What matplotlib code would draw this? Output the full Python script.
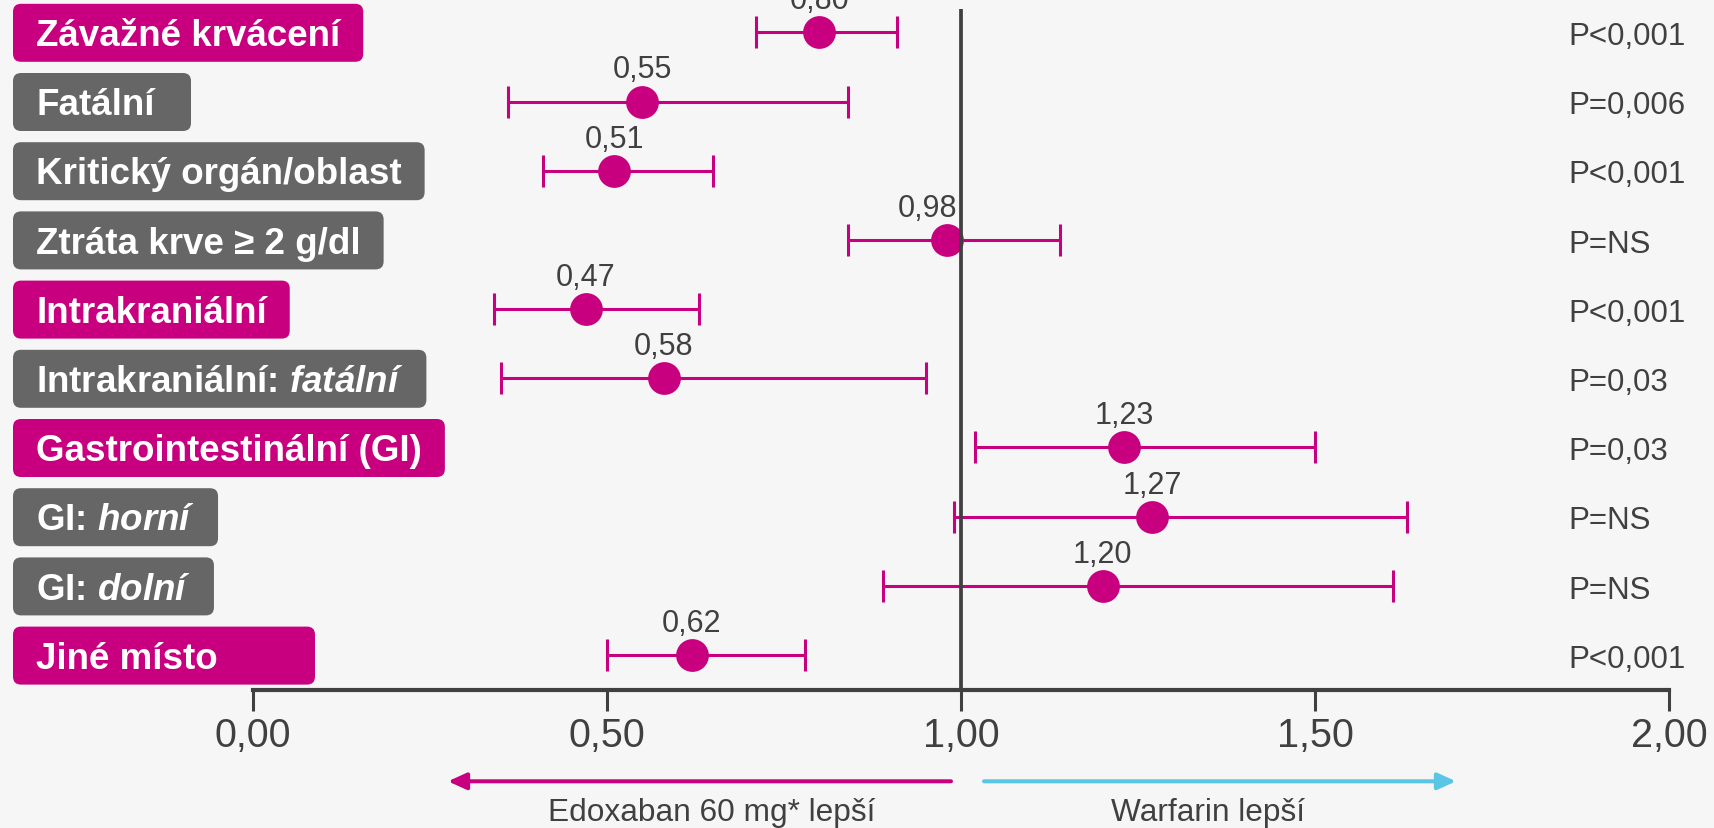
import matplotlib
matplotlib.use('Agg')
import matplotlib.pyplot as plt
from matplotlib.patches import FancyBboxPatch
from matplotlib.transforms import IdentityTransform
import numpy as np

plt.rcParams['font.family'] = ['Liberation Sans', 'DejaVu Sans']
plt.rcParams['mathtext.fontset'] = 'custom'
plt.rcParams['mathtext.it'] = 'Liberation Sans:italic:bold'
plt.rcParams['mathtext.rm'] = 'Liberation Sans:bold'

# ── data ────────────────────────────────────────────────────
labels = [
    "Závažné krvácení",
    "Fatální",
    "Kritický orgán/oblast",
    "Ztráta krve ≥ 2 g/dl",
    "Intrakraniální",
    "Intrakraniální: $\\mathit{fatální}$",
    "Gastrointestinální (GI)",
    "GI: $\\mathit{horní}$",
    "GI: $\\mathit{dolní}$",
    "Jiné místo",
]
highlight = [True, False, False, False, True, False, True, False, False, True]
hr = [0.80, 0.55, 0.51, 0.98, 0.47, 0.58, 1.23, 1.27, 1.20, 0.62]
ci_low = [0.71, 0.36, 0.41, 0.84, 0.34, 0.35, 1.02, 0.99, 0.89, 0.50]
ci_high = [0.91, 0.84, 0.65, 1.14, 0.63, 0.95, 1.50, 1.63, 1.61, 0.78]
p_values = ["P<0,001", "P=0,006", "P<0,001", "P=NS", "P<0,001",
            "P=0,03", "P=0,03", "P=NS", "P=NS", "P<0,001"]
xticks = [0.0, 0.5, 1.0, 1.5, 2.0]
left_text = "Edoxaban 60 mg* lepší"
right_text = "Warfarin lepší"

# ── style ───────────────────────────────────────────────────
MAGENTA = '#C8007F'
GREY_BOX = '#666666'
DARK = '#404040'
CYAN = '#5BC5E6'
BG = '#F6F6F6'

W, H, DPI = 1714, 829, 100
X0_PX, UNIT_PX = 253, 708          # pixel of x=0 and pixels per unit
ROW0_PX, ROW_PX = 33.3, 69.2       # first row centre and row spacing
MIN_BOX_W = {"Fatální": 178, "Jiné místo": 302}
VALUE_DX = {3: -13.7}              # nudge the 0,98 label off the reference line (pt)


def ypx(p):
    return (p - ROW0_PX) / ROW_PX


def xpx(p):
    return (p - X0_PX) / UNIT_PX


fig = plt.figure(figsize=(W / DPI, H / DPI), dpi=DPI, facecolor=BG)
ax = fig.add_axes([0, 0, 1, 1])
ax.set_facecolor(BG)
ax.set_xlim(xpx(0), xpx(W))
ax.set_ylim(ypx(H), ypx(0))

y = np.arange(len(labels))
hr_a = np.array(hr)
xerr = [hr_a - np.array(ci_low), np.array(ci_high) - hr_a]

axis_y = ypx(691)
# reference line sits on top of the markers
ax.vlines(1.0, ypx(9.5), axis_y, color=DARK, lw=2.7, zorder=5)

# CI bars with caps, then the point estimates
ax.errorbar(hr, y, xerr=xerr, fmt='none', ecolor=MAGENTA, elinewidth=2.2,
            capsize=11.5, capthick=2.2, zorder=3)
ax.plot(hr, y, 'o', ms=23.6, mew=0, color=MAGENTA, zorder=4)

for yi, v in zip(y, hr):
    ax.annotate(f"{v:.2f}".replace('.', ','), (v, yi), xytext=(VALUE_DX.get(yi, 0), 17.3),
                textcoords='offset points', ha='center', va='baseline',
                fontsize=22, color=DARK, zorder=4)

for yi, p in zip(y, p_values):
    ax.annotate(p, (xpx(1568), yi), xytext=(0, -8.4),
                textcoords='offset points', ha='left', va='baseline',
                fontsize=22.5, color=DARK)

# row labels in rounded boxes
texts = []
for yi, lab in zip(y, labels):
    t = ax.annotate(lab, (xpx(36), yi), xytext=(0, -9.1),
                    textcoords='offset points', ha='left', va='baseline',
                    fontsize=26.5, fontweight='bold', color='white', zorder=6)
    texts.append(t)

fig.canvas.draw()
renderer = fig.canvas.get_renderer()
for yi, lab, t, hl in zip(y, labels, texts, highlight):
    bb = t.get_window_extent(renderer)
    x1 = max(bb.x1 + 23, 13 + MIN_BOX_W.get(lab, 0))
    cy = H - (ROW0_PX + ROW_PX * yi + 0.5)
    box = FancyBboxPatch((13, cy - 29), x1 - 13, 58,
                         boxstyle="round,pad=0,rounding_size=8",
                         transform=IdentityTransform(),
                         facecolor=MAGENTA if hl else GREY_BOX,
                         edgecolor='none', zorder=1)
    ax.add_artist(box)

# x axis
for s in ['left', 'right', 'top']:
    ax.spines[s].set_visible(False)
ax.spines['bottom'].set_position(('data', axis_y))
ax.spines['bottom'].set_bounds(0, 2)
ax.spines['bottom'].set_linewidth(3)
ax.spines['bottom'].set_color(DARK)
ax.set_yticks([])
ax.set_xticks(xticks)
ax.set_xticklabels([f"{v:.2f}".replace('.', ',') for v in xticks])
ax.tick_params(axis='x', direction='out', length=15, width=2.2, color=DARK,
               labelsize=28.5, labelcolor=DARK, pad=3.5)

# direction arrows
arr_y = ypx(782.3)
ax.annotate('', xy=(xpx(448), arr_y), xytext=(xpx(951), arr_y),
            arrowprops=dict(arrowstyle='-|>,head_length=11,head_width=5', mutation_scale=1,
                            lw=2.9, color=MAGENTA, shrinkA=0, shrinkB=0))
ax.annotate('', xy=(xpx(1456), arr_y), xytext=(xpx(984), arr_y),
            arrowprops=dict(arrowstyle='-|>,head_length=11,head_width=5', mutation_scale=1,
                            lw=2.9, color=CYAN, shrinkA=0, shrinkB=0))
ax.text(xpx(712), ypx(821), left_text, ha='center', va='baseline', fontsize=22.8, color=DARK)
ax.text(xpx(1208), ypx(821), right_text, ha='center', va='baseline', fontsize=22.8, color=DARK)

fig.savefig('out.png', dpi=DPI, facecolor=BG)
